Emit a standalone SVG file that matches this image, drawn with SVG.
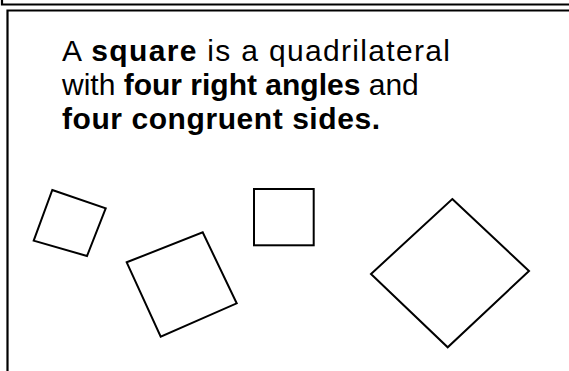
<svg xmlns="http://www.w3.org/2000/svg" width="569" height="371" viewBox="0 0 569 371">
<style>
.frame{fill:none;stroke:#000;stroke-width:2.2}
.sq{fill:none;stroke:#000;stroke-width:2;stroke-linejoin:miter}
.t{font-family:"Liberation Sans",Arial,sans-serif;font-size:30px;fill:#000}
.b{font-weight:bold}
</style>
<rect width="569" height="371" fill="#fff"/>
<g id="frame">
<path class="frame" d="M2,0 V4.5 H569"/>
<path class="frame" d="M7.5,371 V10.5 H569" stroke-width="2.5"/>
</g>
<g id="caption">
<text class="t" x="62" y="61" textLength="388" lengthAdjust="spacing">A <tspan class="b">square</tspan> is a quadrilateral</text>
<text class="t" x="62" y="95">with <tspan class="b">four right angles</tspan> and</text>
<text class="t b" x="62" y="129" textLength="318" lengthAdjust="spacing">four congruent sides.</text>
</g>
<g id="square1"><polygon class="sq" points="52.3,190 105.7,208.3 87,256 33.7,240.7"/></g>
<g id="square2"><polygon class="sq" points="126.7,262.3 202.7,232.3 236.7,303.3 160.7,336.7"/></g>
<g id="square3"><rect class="sq" x="254" y="189" width="59.7" height="56.3"/></g>
<g id="square4"><polygon class="sq" points="452.3,199 529,271 447.7,347.3 371,274"/></g>
</svg>
